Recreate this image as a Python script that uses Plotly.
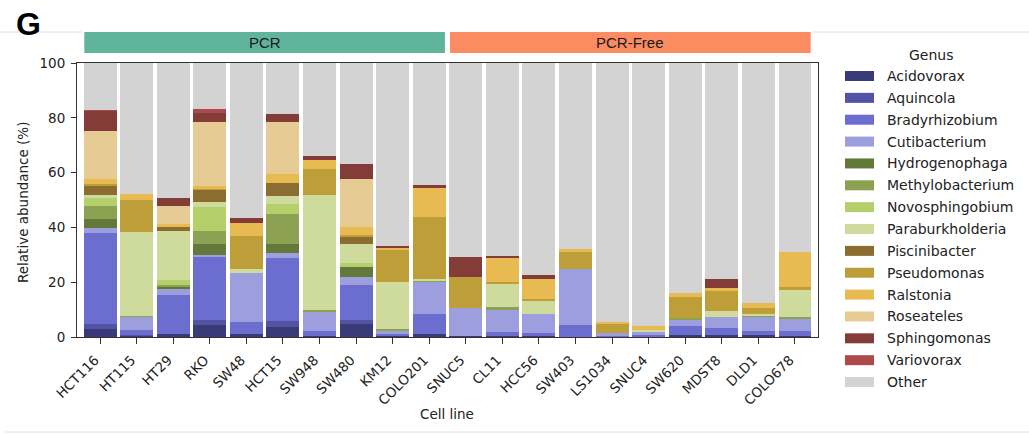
import plotly.graph_objects as go

# Cell lines (x axis), grouped by library preparation
cell_lines = ["HCT116", "HT115", "HT29", "RKO", "SW48", "HCT15", "SW948", "SW480",
              "KM12", "COLO201", "SNUC5", "CL11", "HCC56", "SW403", "LS1034",
              "SNUC4", "SW620", "MDST8", "DLD1", "COLO678"]
groups = ["PCR", "PCR-Free"]
group_sizes = [10, 10]

# Relative abundance (%) of each genus per cell line
acidovorax = [3.0, 0.4, 1.2, 4.3, 1.0, 3.7, 0.4, 4.6, 0.2, 1.2, 0.3, 0.3, 0.5, 0.0, 0.0, 0.0, 0.9, 0.6, 0.6, 0.5]
aquincola = [1.6, 0.3, 0.0, 1.8, 0.0, 2.2, 0.0, 1.5, 0.0, 0.0, 0.0, 0.0, 0.0, 0.0, 0.0, 0.0, 0.0, 0.0, 0.0, 0.0]
bradyrhizobium = [33.4, 1.7, 14.0, 23.4, 4.5, 23.1, 1.7, 13.0, 0.8, 7.3, 0.0, 1.5, 1.0, 4.3, 0.3, 0.9, 3.2, 2.8, 1.6, 1.7]
cutibacterium = [1.9, 4.9, 2.2, 0.6, 17.9, 1.5, 7.0, 2.9, 1.4, 11.6, 10.3, 8.0, 6.8, 20.7, 1.2, 0.9, 2.2, 3.9, 5.1, 4.5]
hydrogenophaga = [3.0, 0.0, 1.1, 3.8, 0.0, 3.4, 0.0, 3.4, 0.0, 0.0, 0.0, 0.0, 0.0, 0.0, 0.0, 0.0, 0.0, 0.0, 0.0, 0.0]
methylobacterium = [5.0, 0.4, 0.6, 4.9, 0.0, 11.0, 0.9, 0.0, 0.6, 0.5, 0.0, 1.2, 0.0, 0.0, 0.0, 0.0, 0.8, 0.0, 0.5, 0.6]
novosphingobium = [3.0, 0.0, 1.6, 8.5, 0.0, 3.6, 0.0, 1.7, 0.0, 0.0, 0.0, 0.0, 0.0, 0.0, 0.0, 0.0, 0.0, 0.0, 0.0, 0.0]
paraburkholderia = [0.9, 30.7, 18.1, 2.1, 1.6, 3.1, 41.8, 7.0, 17.1, 0.4, 0.0, 8.5, 4.7, 0.0, 0.0, 0.9, 0.0, 2.2, 0.7, 9.8]
piscinibacter = [3.4, 0.0, 1.4, 4.3, 0.0, 4.7, 0.0, 2.7, 0.0, 0.0, 0.0, 0.0, 0.0, 0.0, 0.0, 0.0, 0.0, 0.0, 0.0, 0.0]
pseudomonas = [0.5, 11.6, 0.0, 0.4, 11.8, 0.0, 9.5, 0.6, 11.6, 22.9, 11.4, 0.6, 1.0, 5.9, 3.6, 0.0, 7.5, 7.3, 2.2, 1.2]
ralstonia = [2.1, 2.2, 1.0, 1.0, 4.7, 3.1, 3.3, 2.8, 1.0, 10.6, 0.0, 8.9, 7.3, 1.1, 0.4, 1.2, 1.5, 1.2, 1.7, 12.8]
roseateles = [17.4, 0.0, 6.7, 23.2, 0.0, 18.9, 0.0, 17.4, 0.0, 0.0, 0.0, 0.0, 0.0, 0.0, 0.0, 0.0, 0.0, 0.0, 0.0, 0.0]
sphingomonas = [7.4, 0.0, 2.7, 3.4, 1.8, 3.0, 1.3, 5.6, 0.5, 1.1, 7.3, 0.6, 1.3, 0.0, 0.0, 0.0, 0.0, 3.3, 0.0, 0.0]
variovorax = [0.3, 0.0, 0.0, 1.5, 0.0, 0.0, 0.0, 0.0, 0.0, 0.0, 0.0, 0.0, 0.0, 0.0, 0.0, 0.0, 0.0, 0.0, 0.0, 0.0]
other = [17.1, 47.8, 49.4, 16.8, 56.7, 18.7, 34.1, 36.8, 66.8, 44.4, 70.7, 70.4, 77.4, 68.0, 94.5, 96.1, 83.9, 78.7, 87.6, 68.9]

genus_names = ["Acidovorax", "Aquincola", "Bradyrhizobium", "Cutibacterium", "Hydrogenophaga",
               "Methylobacterium", "Novosphingobium", "Paraburkholderia", "Piscinibacter",
               "Pseudomonas", "Ralstonia", "Roseateles", "Sphingomonas", "Variovorax", "Other"]
genus_values = [acidovorax, aquincola, bradyrhizobium, cutibacterium, hydrogenophaga,
                methylobacterium, novosphingobium, paraburkholderia, piscinibacter,
                pseudomonas, ralstonia, roseateles, sphingomonas, variovorax, other]
genus_colors = ["#393b79", "#5254a3", "#6b6ecf", "#9c9ede", "#637939", "#8ca252",
                "#b5cf6b", "#cedb9c", "#8c6d31", "#bd9e39", "#e7ba52", "#e7cb94",
                "#843c39", "#ad494a", "#d3d3d3"]
group_colors = ["#60b49c", "#fb8c62"]

W, H = 1029, 434
L, R, T, B = 77, 211, 63, 97
PW, PH = W - L - R, H - T - B
FONT = "DejaVu Sans"


def px(x):
    return (x - L) / PW


def py(y):
    return (H - B - y) / PH


fig = go.Figure()
xs = list(range(len(cell_lines)))
for name, vals, col in zip(genus_names, genus_values, genus_colors):
    fig.add_trace(go.Bar(x=xs, y=vals, name=name, width=0.9,
                         marker=dict(color=col, line=dict(width=0)),
                         showlegend=False))

shapes = []
annotations = []

# Group header bars above the plot
start = 0
for g, n, col in zip(groups, group_sizes, group_colors):
    x0 = start - 0.45
    x1 = start + n - 1 + 0.45
    shapes.append(dict(type="rect", xref="x", yref="paper", x0=x0 + 0.02, x1=x1 - 0.02,
                       y0=py(53), y1=py(32), fillcolor=col, line=dict(width=0), layer="above"))
    annotations.append(dict(x=(x0 + x1) / 2, y=py(42.5), xref="x", yref="paper",
                            text=g, showarrow=False, xanchor="center", yanchor="middle",
                            font=dict(family="Liberation Sans", size=15, color="#1a1a1a")))
    start += n

# Genus legend
annotations.append(dict(x=px(931), y=py(55), xref="paper", yref="paper", text="Genus",
                        showarrow=False, xanchor="center", yanchor="middle",
                        font=dict(family=FONT, size=14, color="#222")))
for i, (name, col) in enumerate(zip(genus_names, genus_colors)):
    yc = 76 + i * 21.86
    shapes.append(dict(type="rect", xref="paper", yref="paper",
                       x0=px(845), x1=px(874), y0=py(yc + 5), y1=py(yc - 5),
                       fillcolor=col, line=dict(width=0)))
    annotations.append(dict(x=px(885), y=py(yc), xref="paper", yref="paper", text=name,
                            showarrow=False, xanchor="left", yanchor="middle",
                            font=dict(family=FONT, size=14, color="#222")))

# Axis titles
annotations.append(dict(x=px(23), y=py(203), xref="paper", yref="paper",
                        text="Relative abundance (%)", textangle=-90, showarrow=False,
                        xanchor="center", yanchor="middle",
                        font=dict(family=FONT, size=13.5, color="#222")))
annotations.append(dict(x=px(447), y=py(414), xref="paper", yref="paper",
                        text="Cell line", showarrow=False, xanchor="center", yanchor="middle",
                        font=dict(family=FONT, size=13.5, color="#222")))

# Panel letter
annotations.append(dict(x=px(28), y=py(24), xref="paper", yref="paper", text="<b>G</b>",
                        showarrow=False, xanchor="center", yanchor="middle",
                        font=dict(family="Liberation Sans", size=32, color="#000")))

# Thin page rules
for (xa, xb, yy) in [(0, 82, 32), (812, 1029, 32), (5, 1029, 432)]:
    shapes.append(dict(type="line", xref="paper", yref="paper", x0=px(xa), x1=px(xb),
                       y0=py(yy), y1=py(yy), line=dict(color="#dedede", width=1)))

fig.update_layout(
    width=W, height=H, autosize=False,
    margin=dict(l=L, r=R, t=T, b=B, pad=0),
    barmode="stack", bargap=0,
    plot_bgcolor="white", paper_bgcolor="white",
    font=dict(family=FONT, size=13, color="#222"),
    shapes=shapes, annotations=annotations,
    xaxis=dict(range=[-0.63, 19.63], tickmode="array", tickvals=xs, ticktext=cell_lines,
               tickangle=-45, ticks="outside", ticklen=6, tickcolor="#333",
               ticklabelstandoff=3, ticklabelshift=-5,
               showline=True, linecolor="#333", linewidth=1, mirror=True,
               showgrid=False, zeroline=False, tickfont=dict(size=13.5)),
    yaxis=dict(range=[0, 100], tickvals=[0, 20, 40, 60, 80, 100],
               ticks="outside", ticklen=5, tickcolor="#333",
               ticklabelstandoff=3,
               showline=True, linecolor="#333", linewidth=1, mirror=True,
               showgrid=False, zeroline=False, tickfont=dict(size=13.5)),
)

fig.write_html("out.html")
